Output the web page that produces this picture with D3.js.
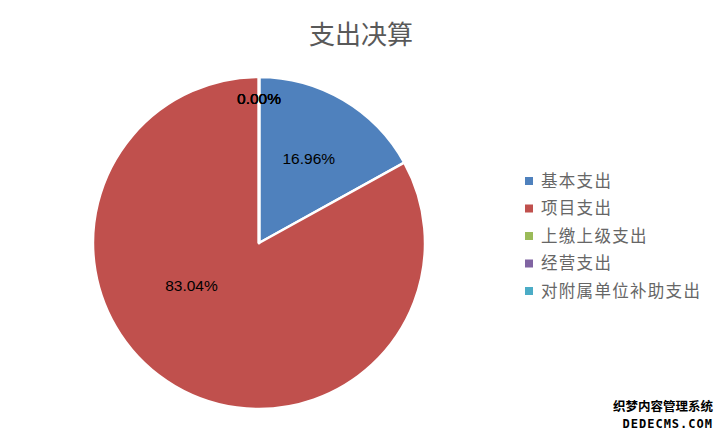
<!DOCTYPE html>
<html>
<head>
<meta charset="utf-8">
<script src="https://cdn.jsdelivr.net/npm/d3@7"></script>
<style>
  body { margin: 0; background: #fff; }
  svg { display: block; }
</style>
</head>
<body>
<div id="chart"></div>
<script>
// chart data
const categories = ['基本支出', '项目支出', '上缴上级支出', '经营支出', '对附属单位补助支出'];
const values = [16.96, 83.04, 0, 0, 0];
const labels = ['16.96%', '83.04%', '0.00%', '0.00%', '0.00%'];
const colors = ['#4F81BD', '#C0504D', '#9BBB59', '#8064A2', '#4BACC6'];

const width = 722, height = 434;
const cx = 259, cy = 243, radius = 166;

const svg = d3.select('#chart').append('svg')
    .attr('width', width)
    .attr('height', height);

svg.append('text')
    .attr('x', 361)
    .attr('y', 44)
    .attr('text-anchor', 'middle')
    .attr('font-family', '"Noto Sans CJK SC", sans-serif')
    .attr('font-size', 26)
    .attr('fill', '#595959')
    .text('支出决算');

const pie = d3.pie().sort(null).value(d => d)(values);
const arc = d3.arc().innerRadius(0).outerRadius(radius);

const g = svg.append('g').attr('transform', `translate(${cx},${cy})`);

g.selectAll('path')
    .data(pie)
    .enter().append('path')
    .attr('d', arc)
    .attr('fill', (d, i) => colors[i])
    .attr('stroke', '#fff')
    .attr('stroke-width', 2.5)
    .attr('stroke-linejoin', 'round');

// label placement (fraction of radius, angle in degrees; null = mid angle)
const labelR = [0.59, 0.48, 0.87, 0.87, 0.87];
const labelA = [null, 238, 0, 0, 0];

g.selectAll('text.lbl')
    .data(pie)
    .enter().append('text')
    .attr('class', 'lbl')
    .attr('transform', (d, i) => {
        const a = labelA[i] === null ? (d.startAngle + d.endAngle) / 2 : labelA[i] * Math.PI / 180;
        const r = radius * labelR[i];
        return `translate(${r * Math.sin(a)},${-r * Math.cos(a)})`;
    })
    .attr('text-anchor', 'middle')
    .attr('dy', '0.35em')
    .attr('font-family', 'Liberation Sans, Arial, sans-serif')
    .attr('font-size', 15.5)
    .attr('fill', '#000')
    .text((d, i) => labels[i]);

// legend
const legend = svg.append('g').attr('transform', 'translate(525,181)');
const item = legend.selectAll('g')
    .data(categories)
    .enter().append('g')
    .attr('transform', (d, i) => `translate(0,${i * 27.5})`);

item.append('rect')
    .attr('x', 0)
    .attr('y', -4)
    .attr('width', 8)
    .attr('height', 8)
    .attr('fill', (d, i) => colors[i]);

item.append('text')
    .attr('x', 16)
    .attr('dy', '0.36em')
    .attr('font-family', '"Noto Sans CJK SC", sans-serif')
    .attr('font-size', 16.5)
    .attr('letter-spacing', 1.3)
    .attr('fill', '#666')
    .text(d => d);

// watermark
const wm = svg.append('g')
    .attr('font-weight', 'bold')
    .attr('text-anchor', 'end')
    .attr('fill', '#000')
    .attr('stroke', '#fff')
    .attr('stroke-width', 2.5)
    .attr('paint-order', 'stroke');

wm.append('text')
    .attr('x', 713)
    .attr('y', 411)
    .attr('font-family', '"Noto Sans CJK SC", sans-serif')
    .attr('font-size', 12.5)
    .text('织梦内容管理系统');

wm.append('text')
    .attr('x', 713)
    .attr('y', 428)
    .attr('font-family', '"DejaVu Sans Mono", monospace')
    .attr('font-size', 12)
    .attr('letter-spacing', 1)
    .text('DEDECMS.COM');
</script>
</body>
</html>
